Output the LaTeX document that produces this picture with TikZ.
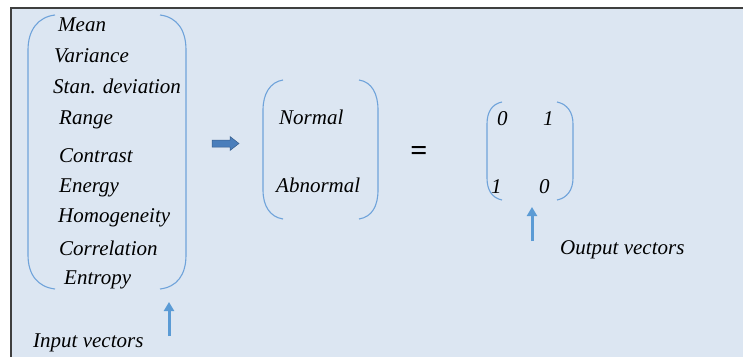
\documentclass[tikz,border=0pt]{standalone}
\usepackage{fontspec}
\setmainfont{Liberation Serif}
\usetikzlibrary{arrows.meta}
\definecolor{bgfill}{HTML}{DCE6F2}
\definecolor{framecol}{HTML}{3F3F3F}
\definecolor{parcol}{HTML}{6FA3DA}
\definecolor{uparrow}{HTML}{5B9BD5}
\definecolor{blockarrow}{HTML}{4A7EBB}
\tikzset{
  lbl/.style={anchor=base west, inner sep=0pt, font=\fontsize{21}{21}\selectfont\itshape, text=black},
  paren/.style={draw=parcol, line width=1.1pt},
  uparr/.style={draw=uparrow, line width=3pt, -{Triangle[length=9pt,width=10pt]}},
  blockarr/.style={fill=blockarrow, draw=blockarrow!75!black, line width=0.5pt},
}
\begin{document}
\begin{tikzpicture}[x=1pt,y=-1pt]
\clip (0,0) rectangle (743,356);
\useasboundingbox (0,0) rectangle (743,356);
\fill[white] (0,0) rectangle (743,356);
\draw[framecol, fill=bgfill, line width=2pt] (11,8) rectangle (760,380);

% left parentheses
\draw[paren] (55,15) .. controls (38,17) and (28,30) .. (28,50) -- (28,255) .. controls (28,275) and (38,287) .. (55,289);
\draw[paren] (160,15) .. controls (177,17) and (186,30) .. (186,50) -- (186,255) .. controls (186,275) and (177,287) .. (160,289);

\node[lbl] (mean) at (58,31) {Mean};
\node[lbl] (var) at (54,62) {Variance};
\node[lbl] (std) at (53,93) {Stan. deviation};
\node[lbl] (range) at (59,124) {Range};
\node[lbl] (contrast) at (59,162) {Contrast};
\node[lbl] (energy) at (59,192) {Energy};
\node[lbl] (homog) at (58,222) {Homogeneity};
\node[lbl] (corr) at (59,255) {Correlation};
\node[lbl] (entropy) at (64,284) {Entropy};
\node[lbl] (input) at (33,347) {Input vectors};

\coordinate (inA) at (169,336);
\coordinate (inB) at (169,302);
\draw[uparr] (inA) -- (inB);

% block arrow
\draw[blockarr] (212,140) -- (230,140) -- (230,136.5) -- (239,143.5) -- (230,150.5) -- (230,147) -- (212,147) -- cycle;

% middle parentheses
\draw[paren] (283,80) .. controls (270,82) and (263,94) .. (263,110) -- (263,190) .. controls (263,206) and (270,217) .. (283,219);
\draw[paren] (359,80) .. controls (372,82) and (378,94) .. (378,110) -- (378,190) .. controls (378,206) and (372,217) .. (359,219);

\node[lbl] (normal) at (279,124) {Normal};
\node[lbl] (abnormal) at (276,192) {Abnormal};

\node[anchor=center, inner sep=0pt, font=\fontsize{30}{30}\selectfont\bfseries] (eq) at (419,153) {=};

% right parentheses
\draw[paren] (502,102) .. controls (492,104) and (487,112) .. (487,124) -- (487,178) .. controls (487,190) and (492,198) .. (502,200);
\draw[paren] (557,102) .. controls (567,104) and (573,112) .. (573,124) -- (573,178) .. controls (573,190) and (567,198) .. (557,200);

\node[lbl] (m11) at (497,125) {0};
\node[lbl] (m12) at (543,125) {1};
\node[lbl] (m21) at (491,193) {1};
\node[lbl] (m22) at (539,193) {0};

\coordinate (outA) at (532,241);
\coordinate (outB) at (532,207);
\draw[uparr] (outA) -- (outB);

\node[lbl] (output) at (560,254) {Output vectors};
\end{tikzpicture}
\end{document}
